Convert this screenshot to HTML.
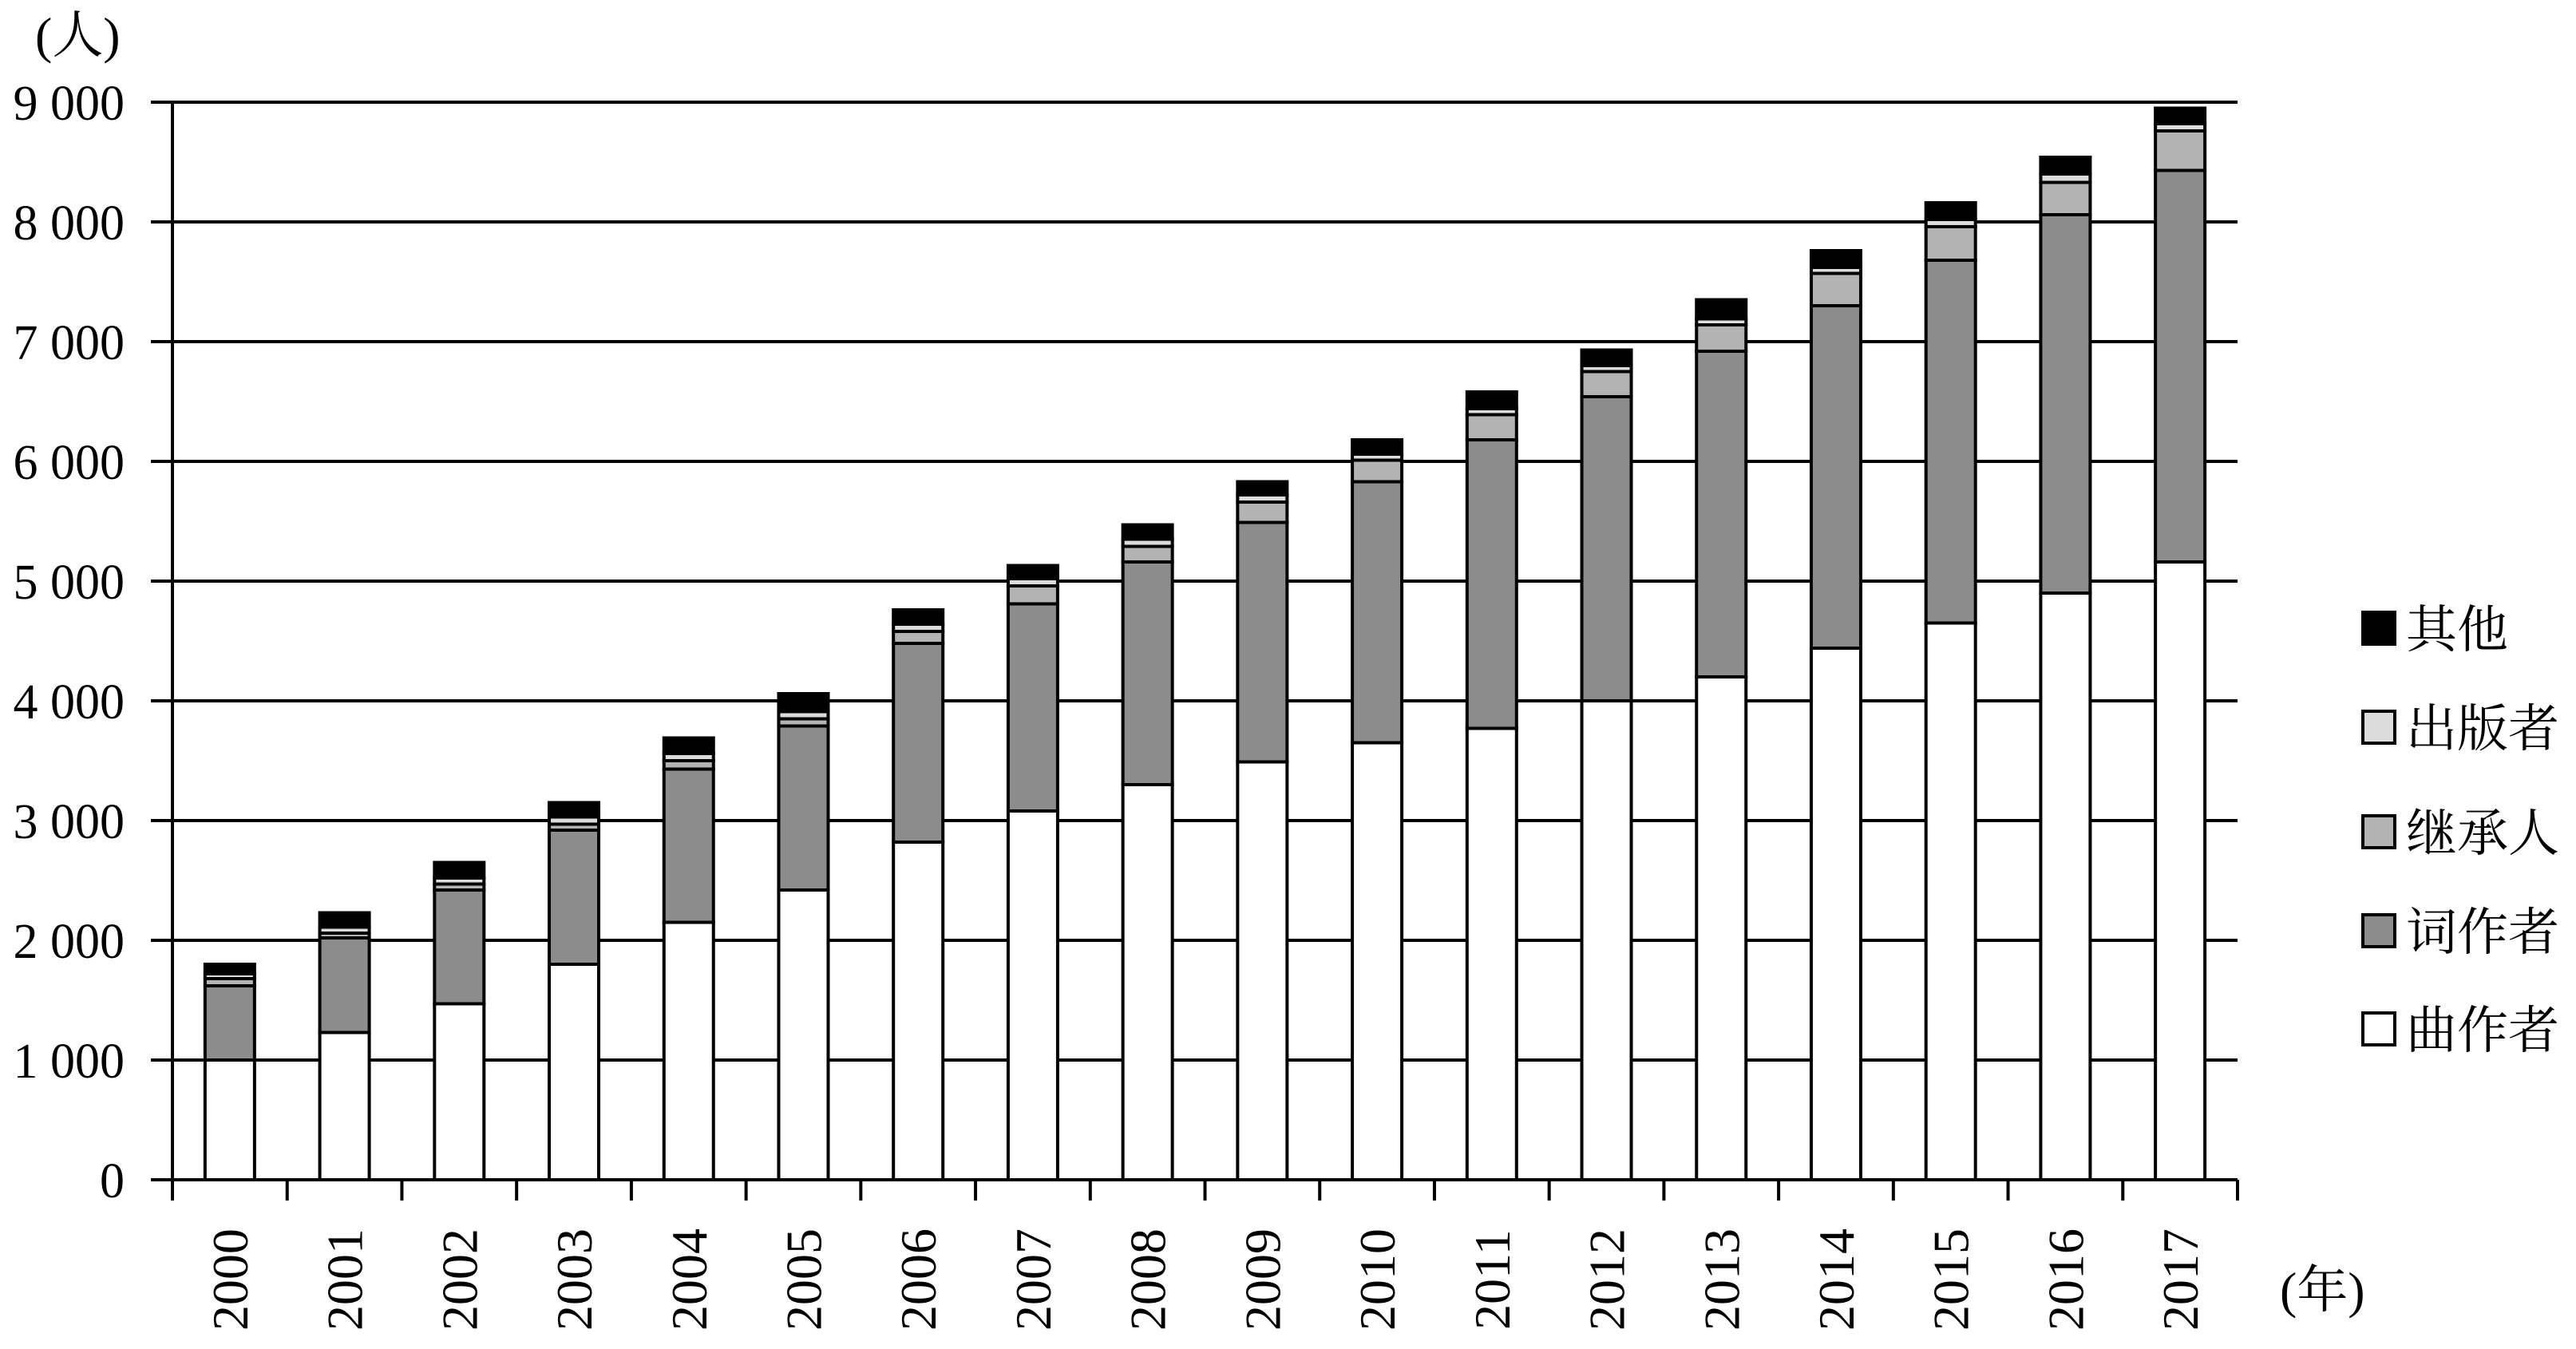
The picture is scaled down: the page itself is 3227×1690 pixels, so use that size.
<!DOCTYPE html>
<html><head><meta charset="utf-8"><style>
html,body{margin:0;padding:0;background:#fff;}
svg{display:block;}
text{font-family:"Liberation Serif","Noto Serif CJK SC",serif;fill:#000;}
</style></head><body>
<svg id="chart" width="3227" height="1690" viewBox="0 0 3227 1690" xmlns="http://www.w3.org/2000/svg">
<g id="grid"></g>
<g id="bars"></g>
<g id="axes"></g>
<text x="44" y="66" font-size="64">(人)</text>
<text x="2856" y="1638" font-size="64">(年)</text>
<g id="legend"></g>
</svg>
<script>
const years = ["2000","2001","2002","2003","2004","2005","2006","2007","2008","2009","2010","2011","2012","2013","2014","2015","2016","2017"];
const composers = [1000,1230,1470,1800,2150,2420,2820,3080,3300,3490,3650,3770,4000,4200,4440,4650,4900,5160];
const lyricists = [620,790,950,1120,1280,1370,1660,1730,1860,2000,2180,2410,2540,2720,2860,3030,3160,3270];
const heirs = [60,40,50,50,70,60,100,150,130,170,180,210,210,220,270,280,270,330];
const publishers = [40,50,50,60,60,60,60,60,60,60,50,50,50,50,50,60,70,60];
const others = [80,120,130,120,130,150,120,110,120,110,120,140,130,160,140,140,140,130];
const yTicks = [0,1000,2000,3000,4000,5000,6000,7000,8000,9000];
const yTickLabels = ["0","1 000","2 000","3 000","4 000","5 000","6 000","7 000","8 000","9 000"];
const seriesNames = ["曲作者","词作者","继承人","出版者","其他"];
const seriesColors = ["#ffffff","#8c8c8c","#b3b3b3","#dcdcdc","#000000"];

const NS="http://www.w3.org/2000/svg";
const X0=216, X1=2803, Y0=1478, YTOP=128, YMAX=9000;
const catW=(X1-X0)/years.length, barW=62;
function y(v){return Y0-(v/YMAX)*(Y0-YTOP);}
function xc(i){return X0+catW*(i+0.5);}
function mk(tag,attrs,parent){const e=document.createElementNS(NS,tag);for(const k in attrs)e.setAttribute(k,attrs[k]);parent.appendChild(e);return e;}

const grid=document.getElementById('grid'), axes=document.getElementById('axes'), bars=document.getElementById('bars'), legend=document.getElementById('legend');
yTicks.forEach((t,i)=>{
  if(t>0){const l=mk('line',{x1:189,x2:X1,y1:y(t),y2:y(t),stroke:'#000','stroke-width':4},grid);
  
  }
  const tx=mk('text',{x:156,y:y(t)+22,'font-size':62,'text-anchor':'end'},axes);
  tx.textContent=yTickLabels[i];
  
  
});
const series=[composers,lyricists,heirs,publishers,others];
years.forEach((yr,i)=>{
  let acc=0;
  series.forEach((arr,s)=>{
    const v=arr[i];
    const r=mk('rect',{x:xc(i)-barW/2,y:y(acc+v),width:barW,height:y(acc)-y(acc+v),fill:seriesColors[s],stroke:'#000','stroke-width':4},bars);
    
    
    acc+=v;
  });
  const tx=mk('text',{x:0,y:0,'font-size':64,'text-anchor':'middle',transform:`translate(${xc(i)+22},1603) rotate(-90)`},axes);
  tx.textContent=yr;
  
  
});
const xa=mk('line',{x1:189,x2:X1,y1:Y0,y2:Y0,stroke:'#000','stroke-width':4},axes);


const ya=mk('line',{x1:X0,x2:X0,y1:YTOP,y2:Y0,stroke:'#000','stroke-width':4},axes);


for(let i=0;i<=years.length;i++){
  const tk=mk('line',{x1:X0+catW*i,x2:X0+catW*i,y1:Y0,y2:Y0+26,stroke:'#000','stroke-width':4},axes);
  
  
}
const legY=[1290,1167,1043,912,788];
seriesNames.forEach((n,s)=>{
  const r=mk('rect',{x:2960,y:legY[s]-21,width:40,height:40,fill:seriesColors[s],stroke:'#000','stroke-width':4},legend);
  
  
  const t=mk('text',{x:3014,y:legY[s]+23,'font-size':64},legend);
  t.textContent=n;
  
  
});
</script>
</body></html>
